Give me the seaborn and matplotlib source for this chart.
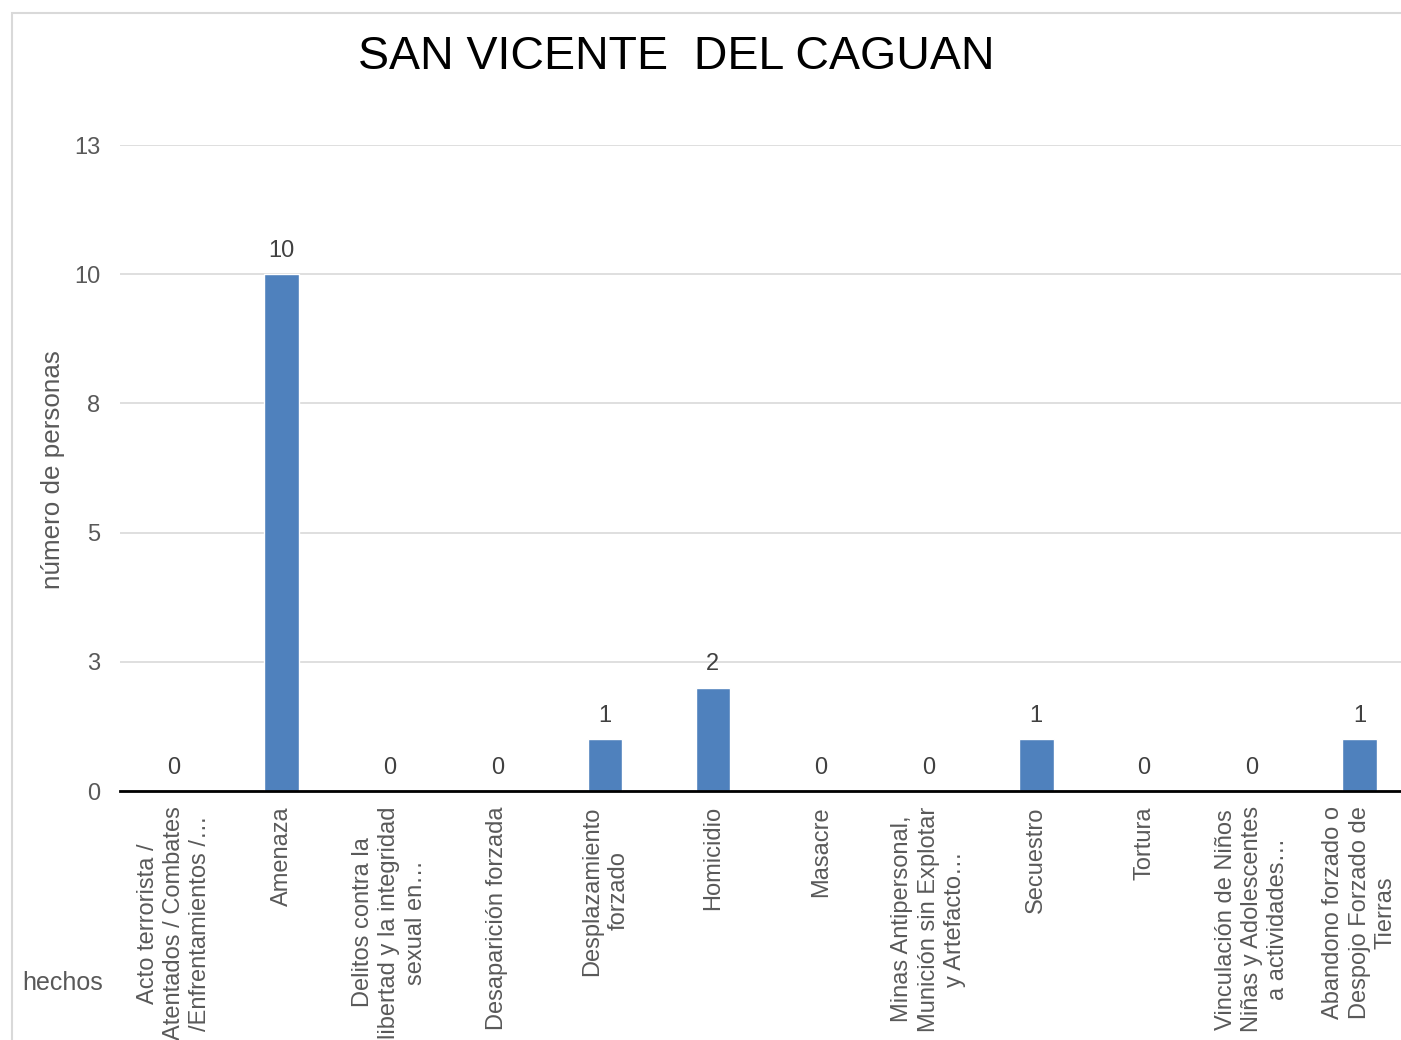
import matplotlib
matplotlib.use("Agg")
import matplotlib.pyplot as plt
import seaborn as sns
import pandas as pd
from matplotlib.patches import Rectangle

categories = [
    "Acto terrorista /\nAtentados / Combates\n/Enfrentamientos /…",
    "Amenaza",
    "Delitos contra la\nlibertad y la integridad\nsexual en…",
    "Desaparición forzada",
    "Desplazamiento\nforzado",
    "Homicidio",
    "Masacre",
    "Minas Antipersonal,\nMunición sin Explotar\ny Artefacto…",
    "Secuestro",
    "Tortura",
    "Vinculación de Niños\nNiñas y Adolescentes\na actividades…",
    "Abandono forzado o\nDespojo Forzado de\nTierras",
]
values = [0, 10, 0, 0, 1, 2, 0, 0, 1, 0, 0, 1]
ytick_values = [0, 2.5, 5, 7.5, 10, 12.5]
ytick_labels = ["0", "3", "5", "8", "10", "13"]

title = "SAN VICENTE  DEL CAGUAN"
ylabel = "número de personas"
xlabel = "hechos"

sns.set_theme(style="white")
plt.rcParams["font.family"] = ["Liberation Sans", "DejaVu Sans"]

W, H = 1401, 1040
fig = plt.figure(figsize=(W / 100, H / 100), dpi=100)
fig.patch.set_facecolor("white")

# axes: left at x=121, width 12 categories * 107.8 px; y from 791 (0) to 145 (12.5)
left_px, right_px = 120, 120 + 12 * 107.8
top_px, bot_px = 145, 791
ax = fig.add_axes([left_px / W, 1 - bot_px / H, (right_px - left_px) / W, (bot_px - top_px) / H])

df = pd.DataFrame({"cat": categories, "val": values})
sns.barplot(data=df, x="cat", y="val", color="#4f81bd", width=0.32,
            saturation=1, ax=ax, zorder=3)
ax.set_xlim(-0.5, len(categories) - 0.5)
ax.set_ylim(0, 12.5)
ax.set_yticks(ytick_values)
ax.set_yticklabels(ytick_labels)
ax.set_xlabel("")
ax.set_ylabel("")

ax.yaxis.grid(True, color="#d9d9d9", linewidth=1.2, zorder=0)
ax.xaxis.grid(False)
for s in ["left", "right", "top"]:
    ax.spines[s].set_visible(False)
ax.spines["bottom"].set_color("black")
ax.spines["bottom"].set_linewidth(2)
ax.spines["bottom"].set_zorder(4)

ax.tick_params(axis="y", length=0, pad=14, labelsize=17, labelcolor="#595959")
ax.tick_params(axis="x", length=0, pad=11, labelsize=17, labelcolor="#595959")
for lab in ax.get_xticklabels():
    lab.set_rotation(90)
    lab.set_ha("center")
    lab.set_va("top")
    lab.set_multialignment("center")
    lab.set_linespacing(1.25)

for i, v in enumerate(values):
    ax.annotate(str(v), xy=(i, v), xytext=(0, 9), textcoords="offset points",
                ha="center", va="bottom", fontsize=17, color="#404040")

fig.text(676.5 / W, 1 - 69 / H, title, ha="center", va="baseline",
         fontsize=33.5, color="black")
fig.text(53 / W, 1 - 470 / H, ylabel, rotation=90, ha="center", va="center",
         fontsize=18.7, color="#595959")
fig.text(22 / W, 1 - 983 / H, xlabel, ha="left", va="center",
         fontsize=18, color="#595959")

fig.patches.append(Rectangle((12 / W, -0.1), 1.2, 1 - 13 / H + 0.1,
                             transform=fig.transFigure, fill=False,
                             edgecolor="#d9d9d9", linewidth=1.5))

fig.savefig("out.png", dpi=100)
